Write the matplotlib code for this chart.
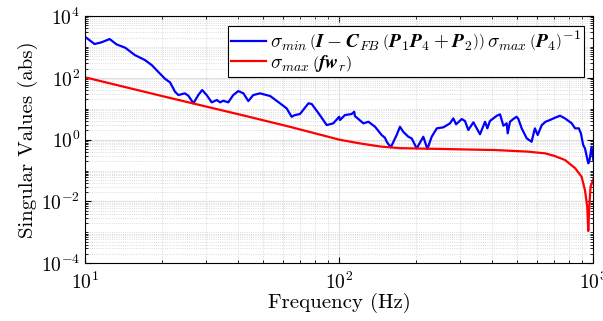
import matplotlib
matplotlib.use('Agg')
import matplotlib.pyplot as plt
from matplotlib.ticker import LogLocator, NullFormatter

plt.rcParams['font.family'] = 'serif'
plt.rcParams['font.serif'] = ['cmr10']
plt.rcParams['mathtext.fontset'] = 'cm'
plt.rcParams['axes.formatter.use_mathtext'] = True

########################################
# Values.

freq_blue = [10.0, 10.9, 11.6, 12.5, 13.3, 14.4, 15.7, 17.2, 18.3, 19.4,
             20.7, 21.6, 22.6, 23.3, 24.7, 25.5, 26.7, 27.9, 28.9, 30.1,
             31.5, 33.0, 34.0, 35.0, 36.6, 38.3, 40.1, 42.0, 43.9, 45.9,
             48.8, 53.5, 58.5, 62.1, 65.0, 67.0, 70.1, 75.7, 78.0, 83.9,
             89.3, 94.8, 100.0, 100.7, 105.4, 111.9, 114.6, 115.3, 124.5, 130.3,
             138.4, 146.9, 151.4, 153.8, 159.6, 168.3, 173.4, 178.6, 187.1, 192.8,
             201.8, 214.3, 222.3, 231.2, 242.1, 257.0, 272.9, 281.2, 288.4, 303.4,
             312.6, 322.1, 337.3, 358.1, 375.0, 382.8, 391.7, 416.9, 429.5, 442.6,
             456.0, 460.3, 469.9, 484.2, 498.9, 507.0, 522.4, 547.0, 571.5, 588.8,
             603.9, 626.6, 648.6, 674.5, 706.3, 739.6, 772.7, 822.2, 847.2, 877.0,
             893.3, 912.0, 926.8, 955.0, 963.8, 984.0, 1000.0]
sv_blue = [2138, 1242, 1409, 1803, 1213, 942, 547, 377, 259, 157,
           91.4, 71.4, 35.5, 27.7, 31.5, 26.4, 15.0, 27.7, 40.3, 27.7,
           16.1, 19.1, 16.1, 18.2, 16.1, 27.7, 37.4, 31.5, 17.7, 27.7,
           31.5, 25.8, 15.0, 10.3, 5.51, 6.25, 6.73, 15.0, 14.2, 6.25,
           2.96, 3.37, 5.51, 4.31, 6.25, 6.73, 8.00, 5.81, 3.37, 3.79,
           2.61, 1.41, 1.15, 0.855, 0.564, 1.41, 2.61, 1.80, 1.24, 1.10,
           0.522, 1.24, 0.497, 1.24, 2.32, 2.50, 3.37, 4.89, 3.13, 4.65,
           4.00, 2.05, 3.63, 1.49, 3.79, 2.32, 4.00, 5.93, 6.59, 2.82,
           3.37, 1.60, 3.79, 4.65, 5.51, 4.65, 2.32, 1.10, 0.855, 2.32,
           1.41, 2.96, 3.79, 4.31, 5.12, 5.93, 4.89, 3.37, 2.32, 2.32,
           1.60, 0.668, 0.522, 0.171, 0.193, 0.589, 0.219]

freq_red = [10, 20, 42.6, 64, 100, 120, 145, 173, 250, 410,
            550, 646, 700, 773, 847, 899, 927, 946, 955, 964,
            975, 1000]
sv_red = [104, 26, 5.9, 2.6, 1.0, 0.76, 0.60, 0.53, 0.50, 0.46,
          0.41, 0.36, 0.30, 0.22, 0.12, 0.063, 0.023, 0.0067, 0.0011, 0.0067,
          0.030, 0.052]

label_blue = (r'$\sigma_{min}\,\left(\boldsymbol{I} - \boldsymbol{C}_{FB}\,'
              r'\left(\boldsymbol{P}_1\boldsymbol{P}_4 + \boldsymbol{P}_2\right)\right)\,'
              r'\sigma_{max}\,\left(\boldsymbol{P}_4\right)^{-1}$')
label_red = r'$\sigma_{max}\,\left(\boldsymbol{f}\boldsymbol{w}_r\right)$'

########################################
# Plot.

fig = plt.figure(figsize=(6.03, 3.21), dpi=100)
ax = fig.add_axes([0.141, 0.180, 0.843, 0.770])

ax.plot(freq_blue, sv_blue, color='#0000ff', linewidth=1.6, label=label_blue)
ax.plot(freq_red, sv_red, color='#ff0000', linewidth=1.6, label=label_red)

ax.set_xscale('log')
ax.set_yscale('log')
ax.set_xlim(10, 1000)
ax.set_ylim(1e-4, 1e4)
ax.set_yticks([1e-4, 1e-2, 1e0, 1e2, 1e4])
ax.yaxis.set_minor_locator(LogLocator(base=10, subs='all', numticks=100))
ax.yaxis.set_minor_formatter(NullFormatter())

ax.grid(True, which='major', color='#e0e0e0', linestyle='-', linewidth=0.8)
ax.grid(True, which='minor', color='#cfcfcf', linestyle=':', linewidth=0.6)
ax.set_axisbelow(True)

ax.tick_params(which='both', direction='in', top=True, right=True, labelsize=14)
ax.tick_params(which='major', length=4)
ax.tick_params(which='minor', length=2)
ax.tick_params(axis='x', pad=6)
for s in ax.spines.values():
    s.set_linewidth(0.8)

ax.set_xlabel('Frequency (Hz)', fontsize=15, labelpad=0)
ax.set_ylabel('Singular Values (abs)', fontsize=15, labelpad=2)

leg = ax.legend(loc='upper right', fontsize=14, fancybox=False, framealpha=1,
                edgecolor='black', borderaxespad=0.5, handlelength=1.8,
                handletextpad=0.2, labelspacing=0.0, borderpad=0.15)
leg.get_frame().set_linewidth(0.8)

plt.savefig('out.png', dpi=100)
